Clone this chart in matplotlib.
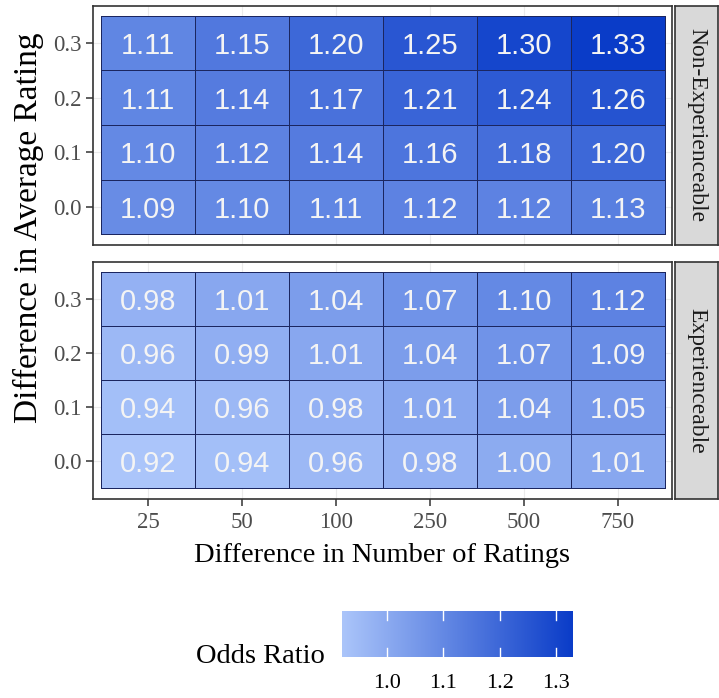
import matplotlib.pyplot as plt
import numpy as np
from matplotlib.colors import LinearSegmentedColormap, Normalize

# categories
n_ratings = ['25', '50', '100', '250', '500', '750']
avg_rating = ['0.0', '0.1', '0.2', '0.3']
facets = ['Non-Experienceable', 'Experienceable']

# odds ratios, rows = avg rating 0.0 .. 0.3, cols = number of ratings
non_experienceable = [
    [1.09, 1.10, 1.11, 1.12, 1.12, 1.13],
    [1.10, 1.12, 1.14, 1.16, 1.18, 1.20],
    [1.11, 1.14, 1.17, 1.21, 1.24, 1.26],
    [1.11, 1.15, 1.20, 1.25, 1.30, 1.33],
]
experienceable = [
    [0.92, 0.94, 0.96, 0.98, 1.00, 1.01],
    [0.94, 0.96, 0.98, 1.01, 1.04, 1.05],
    [0.96, 0.99, 1.01, 1.04, 1.07, 1.09],
    [0.98, 1.01, 1.04, 1.07, 1.10, 1.12],
]
cbar_ticks = [1.0, 1.1, 1.2, 1.3]

W, H = 719, 698
SERIF = 'Liberation Serif'
SANS = 'Liberation Sans'


def px(x0, y0, x1, y1):
    # pixel box (from top-left) -> figure fraction rect
    return [x0 / W, 1 - y1 / H, (x1 - x0) / W, (y1 - y0) / H]


fig = plt.figure(figsize=(W / 100, H / 100), dpi=100)
fig.patch.set_facecolor('white')

cmap = LinearSegmentedColormap.from_list('odds', ['#abc5fa', '#0a3cc8'])
allv = np.array(non_experienceable + experienceable)
norm = Normalize(allv.min(), allv.max())

panels = [(6, 245, non_experienceable), (262, 499, experienceable)]
for i, (top, bot, vals) in enumerate(panels):
    vals = np.array(vals)
    ax = fig.add_axes(px(93, top, 672, bot))
    ax.set_axisbelow(True)
    ax.grid(True, color='#ebebeb', lw=0.8)
    ax.pcolormesh(np.arange(len(n_ratings) + 1) - 0.5,
                  np.arange(len(avg_rating) + 1) - 0.5,
                  vals, cmap=cmap, norm=norm,
                  edgecolors='#1b2660', linewidth=0.7)
    for r in range(vals.shape[0]):
        for c in range(vals.shape[1]):
            ax.text(c, r, f'{vals[r, c]:.2f}', ha='center', va='center_baseline',
                    color='#f4f4f4', fontsize=21, family=SANS)
    ax.set_xlim(-0.585, 5.575)
    ax.set_ylim(-0.7, 3.68)
    ax.set_xticks(range(len(n_ratings)))
    ax.set_yticks(range(len(avg_rating)))
    ax.set_yticklabels(avg_rating, family=SERIF, fontsize=16.5, color='#4d4d4d')
    if i == 1:
        ax.set_xticklabels(n_ratings, family=SERIF, fontsize=16.5, color='#4d4d4d')
        ax.tick_params(axis='x', length=5, width=1.1, color='#333333', pad=4)
    else:
        ax.set_xticklabels([])
        ax.tick_params(axis='x', length=0)
    ax.tick_params(axis='y', length=5, width=1.1, color='#333333', pad=3)
    for s in ax.spines.values():
        s.set_color('#333333')
        s.set_linewidth(1.2)

    # facet strip
    sax = fig.add_axes(px(675, top, 718, bot))
    sax.set_facecolor('#d9d9d9')
    sax.set_xticks([])
    sax.set_yticks([])
    for s in sax.spines.values():
        s.set_color('#333333')
        s.set_linewidth(1.2)
    sax.text(0.5, 0.5, facets[i], rotation=-90, ha='center', va='center',
             family=SERIF, fontsize=17, color='#1a1a1a', transform=sax.transAxes)

fig.text(28 / W, 1 - 228 / H, 'Difference in Average Rating', rotation=90,
         ha='center', va='center', family=SERIF, fontsize=24)
fig.text(382.5 / W, 1 - 562 / H, 'Difference in Number of Ratings',
         ha='center', va='baseline', family=SERIF, fontsize=20.5)

# colour bar
cax = fig.add_axes(px(342, 611, 573, 657))
grad = np.linspace(norm.vmin, norm.vmax, 256)[None, :]
cax.imshow(grad, cmap=cmap, norm=norm, aspect='auto',
           extent=[norm.vmin, norm.vmax, 0, 1])
for t in cbar_ticks:
    cax.plot([t, t], [0, 0.2], color='white', lw=1)
    cax.plot([t, t], [0.8, 1], color='white', lw=1)
cax.set_xlim(norm.vmin, norm.vmax)
cax.set_ylim(0, 1)
cax.set_yticks([])
cax.set_xticks(cbar_ticks)
cax.set_xticklabels([f'{t:.1f}' for t in cbar_ticks], family=SERIF, fontsize=16)
cax.tick_params(axis='x', length=0, pad=12)
for s in cax.spines.values():
    s.set_visible(False)
fig.text(325 / W, 1 - 663 / H, 'Odds Ratio', ha='right', va='baseline',
         family=SERIF, fontsize=20.5)

fig.savefig('out.png', dpi=100)
